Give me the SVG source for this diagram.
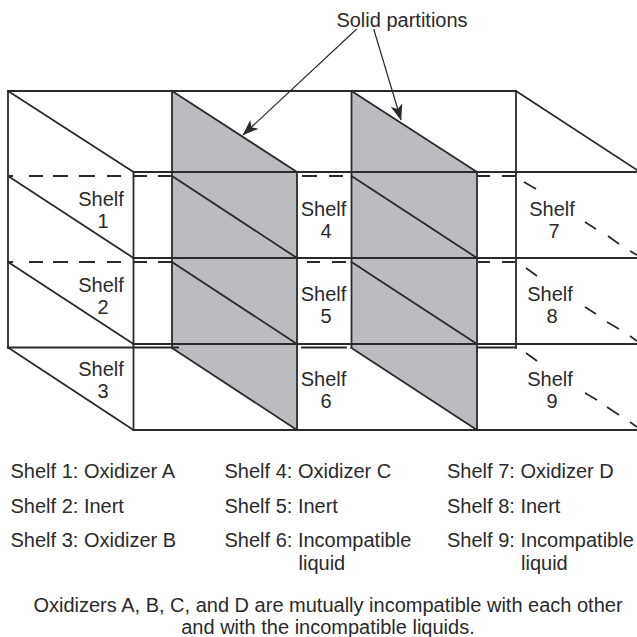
<svg xmlns="http://www.w3.org/2000/svg" width="637" height="637" viewBox="0 0 637 637">
<style>
.l{stroke:#2a2a2c;stroke-width:1.8;fill:none;stroke-linecap:square}
.d{stroke:#2a2a2c;stroke-width:1.8;fill:none}
.p{fill:#bbbcc0;stroke:none}
.a{stroke:#2a2a2c;stroke-width:1.2;fill:none}
text{font-family:"Liberation Sans",Arial,sans-serif;font-size:20px;fill:#2a2a2c}
.c{text-anchor:middle}
</style>
<defs><marker id="ah" viewBox="0 0 16 12" refX="15.500" refY="6" markerWidth="16" markerHeight="12" markerUnits="userSpaceOnUse" orient="auto"><path d="M0 0L16 6L0 12L4 6Z" fill="#2a2a2c"/></marker></defs>
<g id="partitions">
<path class="p" d="M172 91L297 172V430L172 348Z"/>
<path class="p" d="M351.500 91L477 172V430L351.500 348Z"/>
</g>
<g id="frame">
<path class="l" d="M8 91H516M8 91V347.500M172 91V348M351.500 91V348M516 91V347.500"/>
<path class="l" d="M8 91L133.500 172M172 91L297 172M351.500 91L477 172M516 91L637 170"/>
<path class="l" d="M133.500 172H637M133.500 258H637M133.500 344H637M133.500 430H637"/>
<path class="l" d="M133.500 172V430M297 172V430M477 172V430"/>
<path class="l" d="M8 176L133.500 258M172 176L297 258M351.500 176L477 258"/>
<path class="l" d="M8 262L133.500 344M172 262L297 344M351.500 262L477 344"/>
<path class="l" d="M8 347.500L133.500 430M172 348L297 430M351.500 348L477 430"/>
<path class="l" d="M8 347.500H178M302 347.500H346M477 347.500H516"/>
</g>
<g id="dashes">
<path class="d" d="M8 176H13M29 176H43M53 176H68M79 176H95M107 176H121M133 176H147M158 176H172"/>
<path class="d" d="M8 262H13M29 262H43M53 262H68M79 262H95M107 262H121M133 262H147M158 262H172"/>
<path class="d" d="M302 176H317M329 176H343M307 262H320M332 262H346"/>
<path class="d" d="M478 176H490M502 176H515M478 262H490M502 262H515"/>
<path class="d" d="M524 182L536 189M585 222L596 229M608 236L619 244M630 251L637 255"/>
<path class="d" d="M526 268L537 276M585 307L596 314M607 322L619 329M630 336L637 341"/>
<path class="d" d="M526 353L537 361M585 393L597 400M607 407L619 415M630 422L637 427"/>
</g>
<g id="connectors">
<path class="a" d="M356.700 29L243 135" marker-end="url(#ah)"/>
<path class="a" d="M373.700 29L401 120" marker-end="url(#ah)"/>
</g>
<g id="title"><text class="c" x="402" y="27">Solid partitions</text></g>
<g id="shelf1"><text class="c" x="101" y="206">Shelf</text><text class="c" x="103" y="228">1</text></g>
<g id="shelf2"><text class="c" x="101" y="292">Shelf</text><text class="c" x="103" y="314">2</text></g>
<g id="shelf3"><text class="c" x="101" y="376">Shelf</text><text class="c" x="103" y="398">3</text></g>
<g id="shelf4"><text class="c" x="323.500" y="216">Shelf</text><text class="c" x="326" y="238">4</text></g>
<g id="shelf5"><text class="c" x="323.500" y="301">Shelf</text><text class="c" x="326" y="323">5</text></g>
<g id="shelf6"><text class="c" x="323.500" y="386">Shelf</text><text class="c" x="326" y="408">6</text></g>
<g id="shelf7"><text class="c" x="552" y="216">Shelf</text><text class="c" x="554" y="238">7</text></g>
<g id="shelf8"><text class="c" x="550" y="301">Shelf</text><text class="c" x="552" y="323">8</text></g>
<g id="shelf9"><text class="c" x="550" y="386">Shelf</text><text class="c" x="552" y="408">9</text></g>
<g id="legend">
<text x="10.500" y="478">Shelf 1: Oxidizer A</text>
<text x="10.500" y="512.500">Shelf 2: Inert</text>
<text x="10.500" y="547">Shelf 3: Oxidizer B</text>
<text x="224.500" y="478">Shelf 4: Oxidizer C</text>
<text x="224.500" y="512.500">Shelf 5: Inert</text>
<text x="224.500" y="547">Shelf 6: Incompatible</text>
<text x="298.500" y="570">liquid</text>
<text x="447" y="478">Shelf 7: Oxidizer D</text>
<text x="447" y="512.500">Shelf 8: Inert</text>
<text x="447" y="547">Shelf 9: Incompatible</text>
<text x="521" y="570">liquid</text>
<text class="c" x="328" y="611.500">Oxidizers A, B, C, and D are mutually incompatible with each other</text>
<text class="c" x="328" y="633.500">and with the incompatible liquids.</text>
</g>
</svg>
